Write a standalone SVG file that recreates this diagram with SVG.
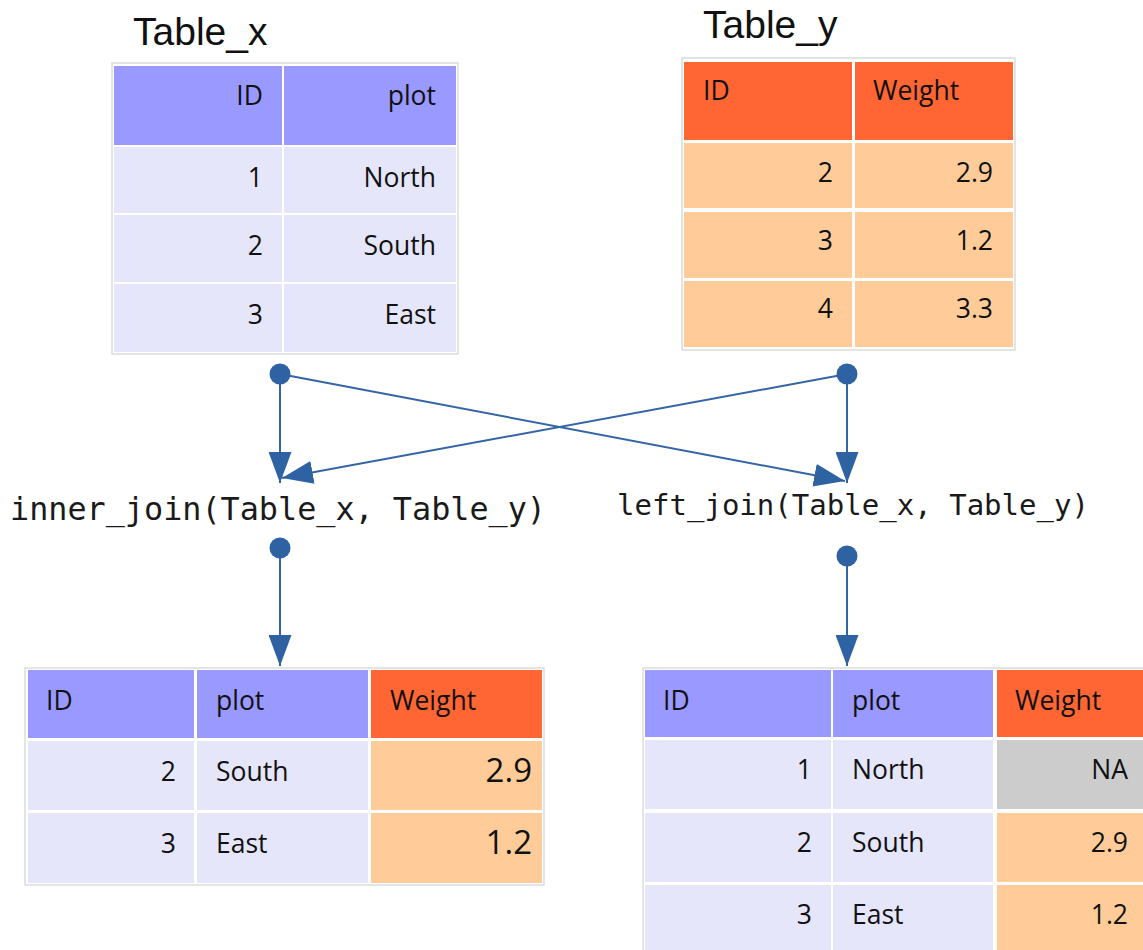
<svg xmlns="http://www.w3.org/2000/svg" width="1143" height="950" viewBox="0 0 1143 950">
<style>
.title{font-family:"Liberation Sans",Arial,sans-serif;font-size:39px;fill:#111}
.cell{font-family:"Open Sans","Noto Sans",sans-serif;font-size:26.5px;fill:#111}
.cell.big{font-size:33px}
.r{text-anchor:end}
.code{font-family:"DejaVu Sans Mono","Liberation Mono",monospace;fill:#1a1a1a}
.outer{fill:#fff;stroke:#dcdcdc;stroke-width:1.5}
.hb{fill:#9999ff}
.lb{fill:#e6e6fa}
.ho{fill:#ff6633}
.lo{fill:#ffcc99}
.na{fill:#cccccc}
.conn{stroke:#3465a4;stroke-width:2;fill:none}
.dot{fill:#2f62a3}
</style>
<defs>
<marker id="ah" markerUnits="userSpaceOnUse" markerWidth="31" markerHeight="23" refX="31" refY="11.5" orient="auto">
<path d="M0,0 L31,11.5 L0,23 z" fill="#2f62a3"/>
</marker>
</defs>
<rect width="1143" height="950" fill="#fff"/>

<g id="table_x">
<text class="title" x="133" y="45">Table_x</text>
<rect class="outer" x="112" y="63" width="346" height="291"/>
<rect class="hb" x="114" y="66" width="168" height="79"/>
<rect class="hb" x="284" y="66" width="172" height="79"/>
<rect class="lb" x="114" y="147" width="168" height="66"/>
<rect class="lb" x="284" y="147" width="172" height="66"/>
<rect class="lb" x="114" y="215" width="168" height="67"/>
<rect class="lb" x="284" y="215" width="172" height="67"/>
<rect class="lb" x="114" y="284" width="168" height="68"/>
<rect class="lb" x="284" y="284" width="172" height="68"/>
<text class="cell r" x="263" y="105">ID</text>
<text class="cell r" x="436" y="105">plot</text>
<text class="cell r" x="263" y="187">1</text>
<text class="cell r" x="436" y="187">North</text>
<text class="cell r" x="263" y="255">2</text>
<text class="cell r" x="436" y="255">South</text>
<text class="cell r" x="263" y="324">3</text>
<text class="cell r" x="436" y="324">East</text>
</g>

<g id="table_y">
<text class="title" x="703" y="38">Table_y</text>
<rect class="outer" x="682" y="58" width="333" height="292"/>
<rect class="ho" x="684" y="62" width="168" height="78"/>
<rect class="ho" x="855" y="62" width="158" height="78"/>
<rect class="lo" x="684" y="143" width="168" height="65"/>
<rect class="lo" x="855" y="143" width="158" height="65"/>
<rect class="lo" x="684" y="212" width="168" height="66"/>
<rect class="lo" x="855" y="212" width="158" height="66"/>
<rect class="lo" x="684" y="281" width="168" height="66"/>
<rect class="lo" x="855" y="281" width="158" height="66"/>
<text class="cell" x="703" y="100">ID</text>
<text class="cell" x="873" y="100">Weight</text>
<text class="cell r" x="833" y="182">2</text>
<text class="cell r" x="993" y="182">2.9</text>
<text class="cell r" x="833" y="250">3</text>
<text class="cell r" x="993" y="250">1.2</text>
<text class="cell r" x="833" y="318">4</text>
<text class="cell r" x="993" y="318">3.3</text>
</g>

<g id="inner_join_label">
<text class="code" x="10" y="520" font-size="31.5" textLength="536" lengthAdjust="spacingAndGlyphs">inner_join(Table_x, Table_y)</text>
</g>
<g id="left_join_label">
<text class="code" x="617" y="515" font-size="29" textLength="472" lengthAdjust="spacingAndGlyphs">left_join(Table_x, Table_y)</text>
</g>

<g id="connectors">
<line class="conn" x1="280" y1="374" x2="280" y2="483" marker-end="url(#ah)"/>
<line class="conn" x1="847" y1="374" x2="847" y2="483" marker-end="url(#ah)"/>
<line class="conn" x1="280" y1="374" x2="845" y2="481" marker-end="url(#ah)"/>
<line class="conn" x1="847" y1="374" x2="282" y2="478" marker-end="url(#ah)"/>
<line class="conn" x1="280" y1="548" x2="280" y2="666" marker-end="url(#ah)"/>
<line class="conn" x1="847" y1="556" x2="847" y2="666" marker-end="url(#ah)"/>
<circle class="dot" cx="280" cy="374" r="10.5"/>
<circle class="dot" cx="847" cy="374" r="10.5"/>
<circle class="dot" cx="280" cy="548" r="10.5"/>
<circle class="dot" cx="847" cy="556" r="10.5"/>
</g>

<g id="inner_result">
<rect class="outer" x="25" y="668" width="519" height="217"/>
<rect class="hb" x="28" y="670" width="166" height="68"/>
<rect class="hb" x="197" y="670" width="171" height="68"/>
<rect class="ho" x="371" y="670" width="171" height="68"/>
<rect class="lb" x="28" y="741" width="166" height="69"/>
<rect class="lb" x="197" y="741" width="171" height="69"/>
<rect class="lo" x="371" y="741" width="171" height="69"/>
<rect class="lb" x="28" y="813" width="166" height="70"/>
<rect class="lb" x="197" y="813" width="171" height="70"/>
<rect class="lo" x="371" y="813" width="171" height="70"/>
<text class="cell" x="46" y="710">ID</text>
<text class="cell" x="216" y="710">plot</text>
<text class="cell" x="390" y="710">Weight</text>
<text class="cell r" x="176" y="781">2</text>
<text class="cell" x="216" y="781">South</text>
<text class="cell big r" x="532" y="782">2.9</text>
<text class="cell r" x="176" y="853">3</text>
<text class="cell" x="216" y="853">East</text>
<text class="cell big r" x="532" y="854">1.2</text>
</g>

<g id="left_result">
<rect class="outer" x="643" y="668" width="520" height="300"/>
<rect class="hb" x="645" y="670" width="186" height="67"/>
<rect class="hb" x="833" y="670" width="160" height="67"/>
<rect class="ho" x="997" y="670" width="160" height="67"/>
<rect class="lb" x="645" y="740" width="186" height="69"/>
<rect class="lb" x="833" y="740" width="160" height="69"/>
<rect class="na" x="997" y="740" width="160" height="69"/>
<rect class="lb" x="645" y="813" width="186" height="69"/>
<rect class="lb" x="833" y="813" width="160" height="69"/>
<rect class="lo" x="997" y="813" width="160" height="69"/>
<rect class="lb" x="645" y="885" width="186" height="70"/>
<rect class="lb" x="833" y="885" width="160" height="70"/>
<rect class="lo" x="997" y="885" width="160" height="70"/>
<text class="cell" x="663" y="710">ID</text>
<text class="cell" x="852" y="710">plot</text>
<text class="cell" x="1015" y="710">Weight</text>
<text class="cell r" x="812" y="779">1</text>
<text class="cell" x="852" y="779">North</text>
<text class="cell r" x="1128" y="779">NA</text>
<text class="cell r" x="812" y="852">2</text>
<text class="cell" x="852" y="852">South</text>
<text class="cell r" x="1128" y="852">2.9</text>
<text class="cell r" x="812" y="924">3</text>
<text class="cell" x="852" y="924">East</text>
<text class="cell r" x="1128" y="924">1.2</text>
</g>
</svg>
